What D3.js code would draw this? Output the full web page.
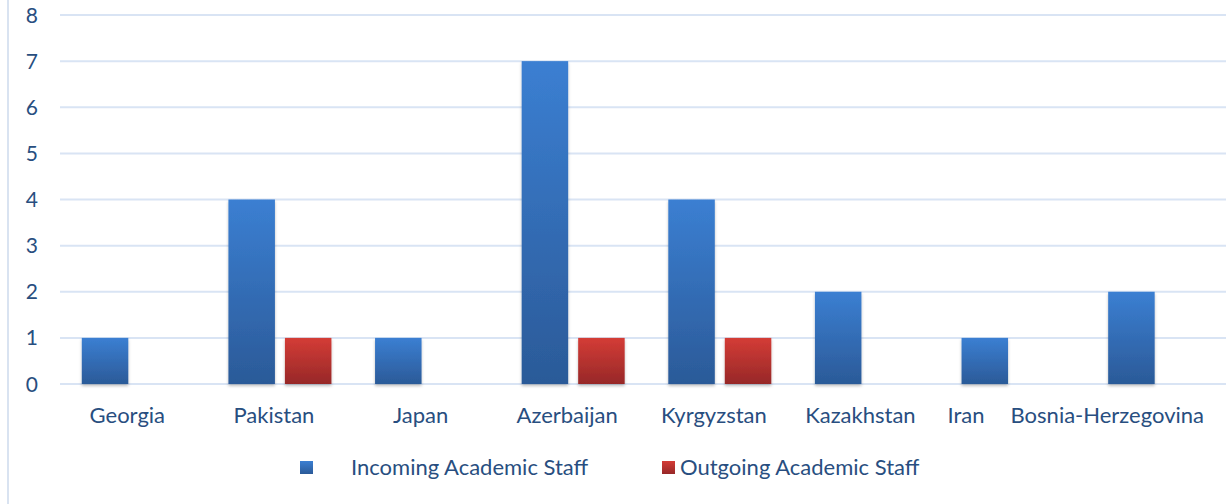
<!DOCTYPE html>
<html>
<head>
<meta charset="utf-8">
<script src="https://cdn.jsdelivr.net/npm/d3@7"></script>
<style>
  body { margin: 0; background: #fff; }
  svg text { font-family: Lato, "Open Sans", sans-serif; fill: #284e80; }
</style>
</head>
<body>
<div id="chart"></div>
<script>
const countries = ['Georgia', 'Pakistan', 'Japan', 'Azerbaijan', 'Kyrgyzstan', 'Kazakhstan', 'Iran', 'Bosnia-Herzegovina'];
const incoming = [1, 4, 1, 7, 4, 2, 1, 2];
const outgoing = [0, 1, 0, 1, 1, 0, 0, 0];
const yTicks = [0, 1, 2, 3, 4, 5, 6, 7, 8];
const seriesNames = ['Incoming Academic Staff', 'Outgoing Academic Staff'];

const width = 1226, height = 504;

let svg = d3.select('#chart').append('svg')
  .attr('width', width).attr('height', height);

let defs = svg.append('defs');
function grad(id, top, bottom) {
  let g = defs.append('linearGradient').attr('id', id)
    .attr('x1', 0).attr('y1', 0).attr('x2', 0).attr('y2', 1);
  g.append('stop').attr('offset', '0%').attr('stop-color', top);
  g.append('stop').attr('offset', '100%').attr('stop-color', bottom);
}
grad('blueGrad', '#3b7fd2', '#2b5a98');
grad('redGrad', '#d43c36', '#972828');

let shadow = defs.append('filter').attr('id', 'shadow')
  .attr('x', '-20%').attr('y', '-20%').attr('width', '140%').attr('height', '140%');
shadow.append('feDropShadow').attr('dx', 0).attr('dy', 2).attr('stdDeviation', 1.5)
  .attr('flood-color', '#000').attr('flood-opacity', 0.25);

// chart frame (only left edge shows)
svg.append('rect')
  .attr('x', 8).attr('y', -5).attr('width', width + 20).attr('height', height + 20)
  .attr('fill', 'none').attr('stroke', '#d9e3f1').attr('stroke-width', 2);

let x = d3.scaleBand()
  .domain(countries)
  .range([60, 1233]);

let xs = d3.scaleBand()
  .domain(['in', 'out'])
  .range([21.8, 124.8])
  .paddingInner(0.177);

let y = d3.scaleLinear()
  .domain([0, 8])
  .range([384, 15]);

// gridlines
svg.append('g').selectAll('line').data(yTicks).join('line')
  .attr('x1', 60).attr('x2', width)
  .attr('y1', d => y(d)).attr('y2', d => y(d))
  .attr('stroke', '#d9e4f4').attr('stroke-width', 2);

// y labels
svg.append('g').selectAll('text').data(yTicks).join('text')
  .attr('x', 38).attr('y', d => y(d))
  .attr('dy', '0.36em')
  .attr('text-anchor', 'end')
  .attr('font-size', 21)
  .text(d => d);

// bars
let groups = svg.append('g').selectAll('g').data(countries).join('g')
  .attr('transform', d => `translate(${x(d)},0)`);

groups.append('rect')
  .attr('x', xs('in')).attr('width', xs.bandwidth())
  .attr('y', (d, i) => y(incoming[i]))
  .attr('height', (d, i) => y(0) - y(incoming[i]))
  .attr('fill', 'url(#blueGrad)')
  .attr('filter', 'url(#shadow)');

groups.filter((d, i) => outgoing[i] > 0).append('rect')
  .attr('x', xs('out')).attr('width', xs.bandwidth())
  .attr('y', d => y(outgoing[countries.indexOf(d)]))
  .attr('height', d => y(0) - y(outgoing[countries.indexOf(d)]))
  .attr('fill', 'url(#redGrad)')
  .attr('filter', 'url(#shadow)');

// x labels
let xl = svg.append('g').selectAll('text').data(countries).join('text')
  .attr('x', d => x(d) + x.bandwidth() / 2 - 6)
  .attr('y', 423)
  .attr('text-anchor', 'middle')
  .attr('font-size', 22)
  .text(d => d);

// keep the last label inside the frame, push neighbours left if they overlap
let nodes = xl.nodes();
for (let i = nodes.length - 1; i >= 0; i--) {
  let sel = d3.select(nodes[i]);
  let box = nodes[i].getBBox();
  let limit = (i === nodes.length - 1) ? width - 22 : nodes[i + 1].getBBox().x - 26;
  if (box.x + box.width > limit) {
    sel.attr('x', +sel.attr('x') - (box.x + box.width - limit));
  }
}

// legend
let legend = svg.append('g');
let legendItems = [
  { name: seriesNames[0], fill: 'url(#blueGrad)', sx: 300, tx: 351 },
  { name: seriesNames[1], fill: 'url(#redGrad)', sx: 662, tx: 680 }
];
legendItems.forEach(it => {
  legend.append('rect')
    .attr('x', it.sx).attr('y', 461).attr('width', 13).attr('height', 13)
    .attr('fill', it.fill);
  legend.append('text')
    .attr('x', it.tx).attr('y', 475)
    .attr('font-size', 22)
    .text(it.name);
});
</script>
</body>
</html>
